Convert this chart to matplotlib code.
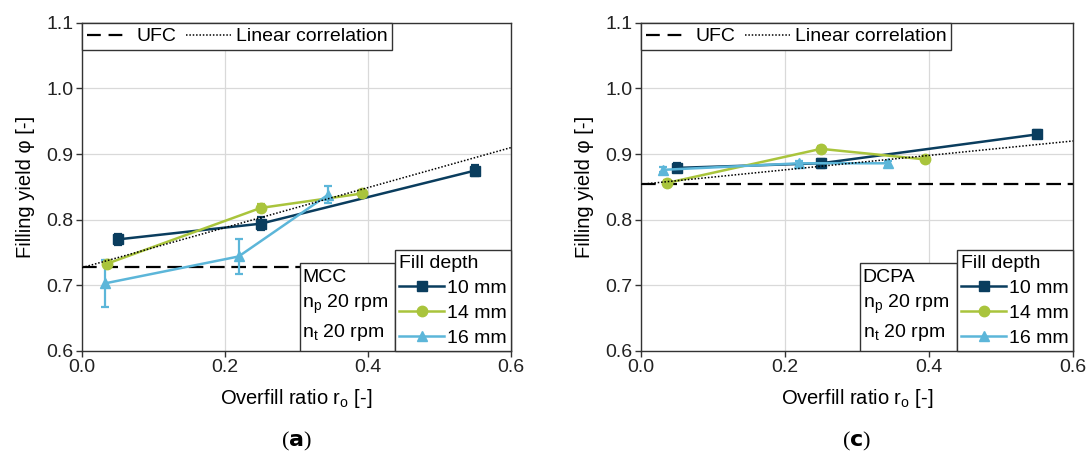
import matplotlib
matplotlib.use("Agg")
import matplotlib.pyplot as plt
from matplotlib.lines import Line2D
from matplotlib.patches import Rectangle
import numpy as np

plt.rcParams['font.family'] = ['Liberation Sans', 'DejaVu Sans']
plt.rcParams['mathtext.fontset'] = 'custom'
plt.rcParams['mathtext.rm'] = 'Liberation Sans'

# %% data
depths = ["10 mm", "14 mm", "16 mm"]
colors = ["#0a3d5e", "#a9c43c", "#5cb6d9"]
markers = ["s", "o", "^"]

# panel (a) MCC
mcc_x = [[0.050, 0.250, 0.550], [0.035, 0.250, 0.392], [0.032, 0.219, 0.344]]
mcc_y = [[0.770, 0.794, 0.875], [0.733, 0.818, 0.840], [0.703, 0.744, 0.838]]
mcc_err = [[0.009, 0.010, 0.008], [0.005, 0.006, 0.006], [0.036, 0.026, 0.013]]
mcc_ufc = 0.728
mcc_lin = (0.727, 0.305)  # intercept, slope

# panel (c) DCPA
dcpa_x = [[0.050, 0.250, 0.550], [0.036, 0.250, 0.394], [0.030, 0.220, 0.343]]
dcpa_y = [[0.879, 0.886, 0.930], [0.856, 0.908, 0.892], [0.876, 0.886, 0.886]]
dcpa_err = [[0.007, 0.007, 0.006], [0.004, 0.004, 0.004], [0.004, 0.004, 0.004]]
dcpa_ufc = 0.855
dcpa_lin = (0.854, 0.110)

# %% plot
fig = plt.figure(figsize=(10.89, 4.57), dpi=100)
ax1 = fig.add_axes([0.0753, 0.232, 0.394, 0.718])
ax2 = fig.add_axes([0.5886, 0.232, 0.3967, 0.718])

fs = 14
dash = (0, (6.6, 3))
dot = (0, (1, 1.2))


def panel(ax, xs, ys, errs, ufc, lin, material, caption):
    ax.set_xlim(0, 0.6)
    ax.set_ylim(0.6, 1.1)
    ax.set_xticks([0.0, 0.2, 0.4, 0.6])
    ax.set_yticks([0.6, 0.7, 0.8, 0.9, 1.0, 1.1])
    ax.xaxis.set_major_formatter(matplotlib.ticker.FormatStrFormatter('%.1f'))
    ax.yaxis.set_major_formatter(matplotlib.ticker.FormatStrFormatter('%.1f'))
    ax.tick_params(labelsize=fs, length=4, width=1, color='#333333', labelcolor='#222222', pad=2)
    ax.grid(True, color='#d9d9d9', lw=0.9)
    ax.set_axisbelow(True)
    for s in ax.spines.values():
        s.set_linewidth(1.0)
        s.set_color('#333333')

    ax.axhline(ufc, color='black', ls=dash, lw=1.6, zorder=2)
    xl = np.array([0, 0.6])
    ax.plot(xl, lin[0] + lin[1] * xl, color='black', ls=dot, lw=1.1, zorder=4)

    handles = []
    for x, y, e, c, m, lab in zip(xs, ys, errs, colors, markers, depths):
        ax.errorbar(x, y, yerr=e, color=c, marker=m, ms=7.5, lw=1.8,
                    capsize=3, elinewidth=1.6, capthick=1.6, zorder=3)
        handles.append(Line2D([], [], color=c, marker=m, ms=7.5, lw=1.8, label=lab))

    top = ax.legend(handles=[Line2D([], [], color='black', ls=(0, (6.2, 3.5, 6.2, 12)), lw=1.6),
                             Line2D([], [], color='black', ls=dot, lw=1.1)],
                    labels=["UFC", "Linear correlation"], ncol=2, loc='upper left',
                    bbox_to_anchor=(0, 1), borderaxespad=0, fancybox=False,
                    edgecolor='#333333', framealpha=1, fontsize=fs, handlelength=2.3,
                    columnspacing=0.5, handletextpad=0.25, borderpad=0.25)
    top.get_frame().set_linewidth(1.0)
    top.set_zorder(6)
    ax.add_artist(top)

    leg = ax.legend(handles=handles, loc='lower right', bbox_to_anchor=(1, 0),
                    borderaxespad=0, fancybox=False, edgecolor='#333333', framealpha=1,
                    fontsize=fs, title="Fill depth", title_fontsize=fs, alignment='left',
                    handlelength=2.3, handletextpad=0.15, labelspacing=0.38, borderpad=0.22)
    leg.get_frame().set_linewidth(1.0)
    leg.set_zorder(6)

    # info box sits just left of the legend
    fig.canvas.draw()
    bb = leg.get_window_extent().transformed(ax.transAxes.inverted())
    ax.add_patch(Rectangle((0.507, 0), bb.x0 - 0.507, 0.268, transform=ax.transAxes,
                           facecolor='white', edgecolor='#333333', lw=1.0, zorder=5))
    ax.text(0.513, 0.25, material + "\n" + r"n$_\mathregular{p}$ 20 rpm" + "\n"
            + r"n$_\mathregular{t}$ 20 rpm", transform=ax.transAxes, fontsize=fs,
            va='top', ha='left', linespacing=1.4, zorder=7)

    ax.set_xlabel(r"Overfill ratio r$_\mathregular{o}$ [-]", fontsize=14.5, labelpad=8)
    ax.set_ylabel("Filling yield φ [-]", fontsize=14.5, labelpad=8)
    ax.text(0.5, -0.275, caption, transform=ax.transAxes, ha='center', va='center',
            fontsize=16, family='Liberation Serif')


panel(ax1, mcc_x, mcc_y, mcc_err, mcc_ufc, mcc_lin, "MCC", r"($\mathbf{a}$)")
panel(ax2, dcpa_x, dcpa_y, dcpa_err, dcpa_ufc, dcpa_lin, "DCPA", r"($\mathbf{c}$)")

fig.savefig("out.png", dpi=100)
